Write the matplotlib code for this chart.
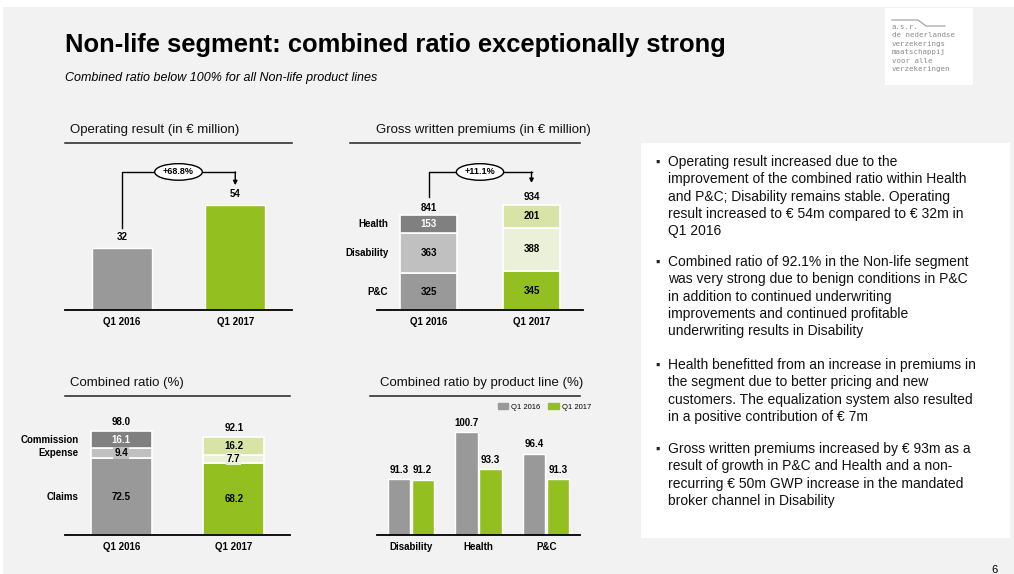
import matplotlib
matplotlib.use('Agg')
import matplotlib.pyplot as plt
from matplotlib.patches import Rectangle

plt.rcParams['font.family'] = ['Liberation Sans', 'DejaVu Sans']

W, H = 1014, 574

# data
periods = ['Q1 2016', 'Q1 2017']
op_result = [32, 54]

gwp_lines = ['P&C', 'Disability', 'Health']
gwp_2016 = [325, 363, 153]
gwp_2017 = [345, 388, 201]

cr_parts = ['Claims', 'Expense', 'Commission']
cr_2016 = [72.5, 9.4, 16.1]
cr_2017 = [68.2, 7.7, 16.2]

product_lines = ['Disability', 'Health', 'P&C']
cr_line_2016 = [91.3, 100.7, 96.4]
cr_line_2017 = [91.2, 93.3, 91.3]

bullets = [
    ['Operating result increased due to the',
     'improvement of the combined ratio within Health',
     'and P&C; Disability remains stable. Operating',
     'result increased to \u20ac 54m compared to \u20ac 32m in',
     'Q1 2016'],
    ['Combined ratio of 92.1% in the Non-life segment',
     'was very strong due to benign conditions in P&C',
     'in addition to continued underwriting',
     'improvements and continued profitable',
     'underwriting results in Disability'],
    ['Health benefitted from an increase in premiums in',
     'the segment due to better pricing and new',
     'customers. The equalization system also resulted',
     'in a positive contribution of \u20ac 7m'],
    ['Gross written premiums increased by \u20ac 93m as a',
     'result of growth in P&C and Health and a non-',
     'recurring \u20ac 50m GWP increase in the mandated',
     'broker channel in Disability'],
]

# colours
BG = '#f2f2f2'
GRAY = '#999999'
DARK_GRAY = '#808080'
LIGHT_GRAY = '#c0c0c0'
GREEN = '#93bf20'
LIGHT_GREEN = '#d7e4a6'
PALE_GREEN = '#ebf1d8'

fig = plt.figure(figsize=(W / 100, H / 100), dpi=100, facecolor=BG)

bg = fig.add_axes([0, 0, 1, 1])
bg.set_xlim(0, W)
bg.set_ylim(H, 0)
bg.axis('off')
bg.add_patch(Rectangle((0, 0), W, 7, color='white', lw=0))
bg.add_patch(Rectangle((0, 0), 3, H, color='white', lw=0))


def px_axes(left, top, right, bottom):
    ax = fig.add_axes([left / W, 1 - bottom / H, (right - left) / W, (bottom - top) / H])
    ax.patch.set_alpha(0)
    for s in ['top', 'right', 'left']:
        ax.spines[s].set_visible(False)
    ax.spines['bottom'].set_linewidth(1.3)
    ax.set_yticks([])
    ax.tick_params(axis='x', length=0, pad=5)
    return ax


def panel_title(x, y, x0, x1, text):
    bg.text(x, y, text, fontsize=9.5, ha='left', va='center', color='#111111')
    bg.plot([x0, x1], [y + 13, y + 13], color='#222222', lw=1.1)


def growth_arrow(ax, y0, y_top, y1, label):
    ax.plot([0, 0, 1], [y0, y_top, y_top], color='black', lw=1)
    ax.annotate('', xy=(1, y1), xytext=(1, y_top),
                arrowprops=dict(arrowstyle='-|>', color='black', lw=1,
                                mutation_scale=6, shrinkA=0, shrinkB=0))
    ax.text(0.5, y_top, label, ha='center', va='center', fontsize=6.5, fontweight='bold',
            bbox=dict(boxstyle='ellipse,pad=0.15', fc='white', ec='black', lw=1))


def value_label(ax, x, y, text, dy=3):
    ax.annotate(text, (x, y), xytext=(0, dy), textcoords='offset points',
                ha='center', va='bottom', fontsize=7, fontweight='bold')


# title area
bg.text(65, 45, 'Non-life segment: combined ratio exceptionally strong',
        fontsize=18.4, fontweight='bold', ha='left', va='center', color='black')
bg.text(65, 78, 'Combined ratio below 100% for all Non-life product lines',
        fontsize=9, style='italic', ha='left', va='center', color='black')

# logo
bg.add_patch(Rectangle((885, 8), 88, 77, color='white', lw=0))
bg.plot([892, 918, 926, 945], [20, 20, 26, 26], color='#9a9a9a', lw=0.8)
logo_lines = ['a.s.r.', 'de nederlandse', 'verzekerings', 'maatschappij', 'voor alle', 'verzekeringen']
for k, t in enumerate(logo_lines):
    bg.text(892, 27 + k * 8.4, t, fontsize=5.3, color='#8a8a8a', ha='left', va='center',
            family='DejaVu Sans Mono')

# --- Operating result ---
panel_title(70, 130, 65, 292, 'Operating result (in \u20ac million)')
ax1 = px_axes(65, 150, 292, 310)
ax1.set_xlim(-0.5, 1.5)
ax1.set_ylim(0, 160 / 1.95)
ax1.bar([0, 1], op_result, width=0.53, color=[GRAY, GREEN], edgecolor='white', lw=1)
for i, v in enumerate(op_result):
    value_label(ax1, i, v, str(v), dy=4)
ax1.set_xticks([0, 1], periods, fontsize=7, fontweight='bold')
growth_arrow(ax1, op_result[0] + 10, 70.8, op_result[1] + 10,
             '+%.1f%%' % ((op_result[1] / op_result[0] - 1) * 100))

# --- Gross written premiums ---
panel_title(376, 130, 350, 580, 'Gross written premiums (in \u20ac million)')
ax2 = px_axes(377, 150, 583, 310)
ax2.set_xlim(-0.5, 1.5)
ax2.set_ylim(0, 160 / 0.1124)
gwp_cols = [[GRAY, LIGHT_GRAY, DARK_GRAY], [GREEN, PALE_GREEN, LIGHT_GREEN]]
gwp_txt = [['black', 'black', 'white'], ['black', 'black', 'black']]
gwp_tot = []
for i, vals in enumerate([gwp_2016, gwp_2017]):
    bottom = 0
    for j, v in enumerate(vals):
        ax2.bar(i, v, width=0.55, bottom=bottom, color=gwp_cols[i][j], edgecolor='white', lw=1.2)
        ax2.text(i, bottom + v / 2, str(v), ha='center', va='center', fontsize=7,
                 fontweight='bold', color=gwp_txt[i][j])
        if i == 0:
            ax2.text(-0.39, bottom + v / 2, gwp_lines[j], ha='right', va='center',
                     fontsize=7, fontweight='bold')
        bottom += v
    gwp_tot.append(bottom)
    value_label(ax2, i, bottom, str(bottom), dy=2)
ax2.set_xticks([0, 1], periods, fontsize=7, fontweight='bold')
growth_arrow(ax2, gwp_tot[0] + 164, 1228, gwp_tot[1] + 196,
             '+%.1f%%' % ((gwp_tot[1] / gwp_tot[0] - 1) * 100))

# --- Combined ratio ---
panel_title(70, 383, 65, 290, 'Combined ratio (%)')
ax3 = px_axes(65, 400, 290, 535)
ax3.set_xlim(-0.5, 1.5)
ax3.set_ylim(0, 135 / 1.06)
cr_cols = [[GRAY, LIGHT_GRAY, DARK_GRAY], [GREEN, PALE_GREEN, LIGHT_GREEN]]
cr_txt = [['black', 'black', 'white'], ['black', 'black', 'black']]
for i, vals in enumerate([cr_2016, cr_2017]):
    bottom = 0
    for j, v in enumerate(vals):
        ax3.bar(i, v, width=0.54, bottom=bottom, color=cr_cols[i][j], edgecolor='white', lw=1.2)
        box = dict(boxstyle='square,pad=0.1', fc=cr_cols[i][j], ec='none') if j == 1 else None
        ax3.text(i, bottom + v / 2, '%.1f' % v, ha='center', va='center', fontsize=7,
                 fontweight='bold', color=cr_txt[i][j], bbox=box)
        if i == 0:
            ax3.text(-0.38, bottom + v / 2, cr_parts[j], ha='right', va='center',
                     fontsize=7, fontweight='bold')
        bottom += v
    value_label(ax3, i, bottom, '%.1f' % bottom, dy=3)
ax3.set_xticks([0, 1], periods, fontsize=7, fontweight='bold')

# --- Combined ratio by product line ---
panel_title(380, 383, 370, 580, 'Combined ratio by product line (%)')
ax4 = px_axes(377, 400, 580, 535)
ax4.set_xlim(-0.5, 2.5)
ax4.set_ylim(80.1, 80.1 + 135 / 5.0)
xs = range(len(product_lines))
ax4.bar([x - 0.175 for x in xs], cr_line_2016, width=0.33, color=GRAY, edgecolor='white', lw=1)
ax4.bar([x + 0.175 for x in xs], cr_line_2017, width=0.33, color=GREEN, edgecolor='white', lw=1)
for x, a, b in zip(xs, cr_line_2016, cr_line_2017):
    value_label(ax4, x - 0.175, a, '%.1f' % a, dy=3)
    value_label(ax4, x + 0.175, b, '%.1f' % b, dy=3)
ax4.set_xticks(list(xs), product_lines, fontsize=7, fontweight='bold')
handles = [Rectangle((0, 0), 1, 1, color=GRAY), Rectangle((0, 0), 1, 1, color=GREEN)]
ax4.legend(handles, periods, loc='upper right', bbox_to_anchor=(1.07, 1.0), ncol=2,
           frameon=False, fontsize=5.5, handlelength=1.4, handleheight=0.9,
           columnspacing=1.0, handletextpad=0.4, borderaxespad=0)

# --- commentary box ---
bg.add_patch(Rectangle((641, 143), 369, 395, color='white', lw=0))
starts = [163, 263, 366, 450]
for y0, lines in zip(starts, bullets):
    bg.text(655, y0, '\u25aa', fontsize=9, ha='left', va='center', color='#222222')
    bg.text(668, y0 - 8, '\n'.join(lines), fontsize=10, ha='left', va='top',
            linespacing=1.3, color='#111111')

bg.text(995, 570, '6', fontsize=8, ha='center', va='center', color='black')

fig.savefig('out.png', dpi=100, facecolor=BG)
